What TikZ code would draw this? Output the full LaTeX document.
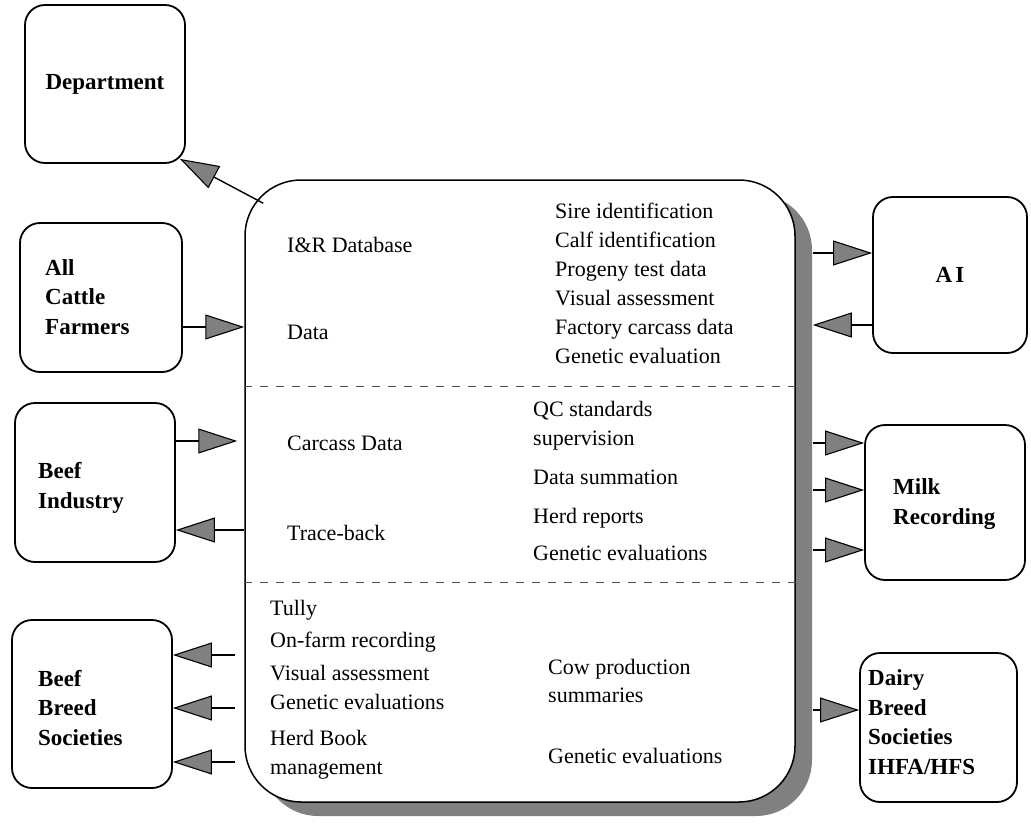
\documentclass[tikz,border=0pt]{standalone}
\usepackage{fontspec}
\setmainfont{Liberation Serif}
\usetikzlibrary{arrows.meta,shadows,calc}
\begin{document}
\begin{tikzpicture}[x=1pt,y=-1pt,
  party/.style={draw, line width=1.8pt, rounded corners=20pt, inner sep=0pt},
  plabel/.style={anchor=west, align=left, inner sep=0pt, font=\bfseries\fontsize{23}{29.5}\selectfont},
  item/.style={anchor=mid west, inner sep=0pt, font=\fontsize{22}{28}\selectfont},
  flow/.style={line width=1.4pt, -{Triangle[length=39pt,width=25pt,fill=black!50,line width=1.1pt]}},
  divider/.style={dash pattern=on 8pt off 8pt, line width=0.8pt, black!70},
]
\useasboundingbox (0,0) rectangle (1031,827);

% central hub with its drop shadow
\node[draw, line width=1.5pt, rounded corners=56pt, fill=white,
      minimum width=550pt, minimum height=622pt,
      drop shadow={shadow xshift=17pt, shadow yshift=-14pt, opacity=1, fill=black!50}]
      (main) at (520,491) {};

% section dividers
\coordinate (d1l) at (main.west |- 0,386);
\coordinate (d1r) at (main.east |- 0,386);
\coordinate (d2l) at (main.west |- 0,582);
\coordinate (d2r) at (main.east |- 0,582);
\draw[divider] (d1l) -- (d1r);
\draw[divider] (d2l) -- (d2r);

% outer parties
\node[party, minimum width=160pt, minimum height=158pt] (dept)    at (105,84) {};
\node[party, minimum width=162pt, minimum height=149pt] (farm)    at (101,297.5) {};
\node[party, minimum width=160pt, minimum height=159pt] (beefind) at (95,482.5) {};
\node[party, minimum width=160pt, minimum height=168pt] (bbs)     at (92,704) {};
\node[party, minimum width=154pt, minimum height=156pt] (ai)      at (950,275) {};
\node[party, minimum width=160pt, minimum height=155pt] (milk)    at (945,502.5) {};
\node[party, minimum width=157pt, minimum height=149pt] (dairy)   at (938.5,727.5) {};

% party labels
\node[plabel, anchor=center] (deptlbl) at (dept) {Department};
\node[plabel] (farmlbl)    at (45,297)  {All\\Cattle\\Farmers};
\node[plabel] (beefindlbl) at (38,488)  {Beef\\Industry};
\node[plabel] (bbslbl)     at (38,708)  {Beef\\Breed\\Societies};
\node[plabel, anchor=center] (ailbl) at (ai) {A\kern3pt I};
\node[plabel] (milklbl)    at (893,504) {Milk\\Recording};
\node[plabel] (dairylbl)   at (868,722) {Dairy\\Breed\\Societies\\IHFA/HFS};

% I&R database section
\node[item] (ir)   at (287,250) {I\&R Database};
\node[item] (data) at (287,337) {Data};
\node[item] (r1) at (555,216) {Sire identification};
\node[item] (r2) at (555,245) {Calf identification};
\node[item] (r3) at (555,274) {Progeny test data};
\node[item] (r4) at (555,303) {Visual assessment};
\node[item] (r5) at (555,332) {Factory carcass data};
\node[item] (r6) at (555,361) {Genetic evaluation};

% carcass / milk recording section
\node[item] (carc)  at (287,448) {Carcass Data};
\node[item] (trace) at (287,538) {Trace-back};
\node[item] (m1) at (533,414) {QC standards};
\node[item] (m2) at (533,443) {supervision};
\node[item] (m3) at (533,482) {Data summation};
\node[item] (m4) at (533,521) {Herd reports};
\node[item] (m5) at (533,558) {Genetic evaluations};

% breed societies section
\node[item] (b1) at (270,613) {Tully};
\node[item] (b2) at (270,645) {On-farm recording};
\node[item] (b3) at (270,678) {Visual assessment};
\node[item] (b4) at (270,707) {Genetic evaluations};
\node[item] (b5) at (270,743) {Herd Book};
\node[item] (b6) at (270,772) {management};
\node[item] (c1) at (548,672) {Cow production};
\node[item] (c2) at (548,700) {summaries};
\node[item] (c3) at (548,761) {Genetic evaluations};

% connectors
\draw[flow] ($(main.north west)+(19,24)$) -- ($(dept.south east)+(-6,-5)$);
\draw[flow] (farm.east |- 0,327) -- (main.west |- 0,327);
\draw[flow] (beefind.east |- 0,441) -- ($(main.west |- 0,441)+(-7,0)$);
\draw[flow] (main.west |- 0,530) -- (beefind.east |- 0,530);
\draw[flow] ($(main.west |- 0,655)+(-9,0)$) -- (bbs.east |- 0,655);
\draw[flow] ($(main.west |- 0,708)+(-9,0)$) -- (bbs.east |- 0,708);
\draw[flow] ($(main.west |- 0,762)+(-9,0)$) -- (bbs.east |- 0,762);
\draw[flow] ($(main.east |- 0,253)+(17,0)$) -- (ai.west |- 0,253);
\draw[flow] (ai.west |- 0,325) -- ($(main.east |- 0,325)+(17,0)$);
\draw[flow] ($(main.east |- 0,443)+(17,0)$) -- (milk.west |- 0,443);
\draw[flow] ($(main.east |- 0,490)+(17,0)$) -- (milk.west |- 0,490);
\draw[flow] ($(main.east |- 0,550)+(17,0)$) -- (milk.west |- 0,550);
\draw[flow] ($(main.east |- 0,710)+(17,0)$) -- (dairy.west |- 0,710);
\end{tikzpicture}
\end{document}
